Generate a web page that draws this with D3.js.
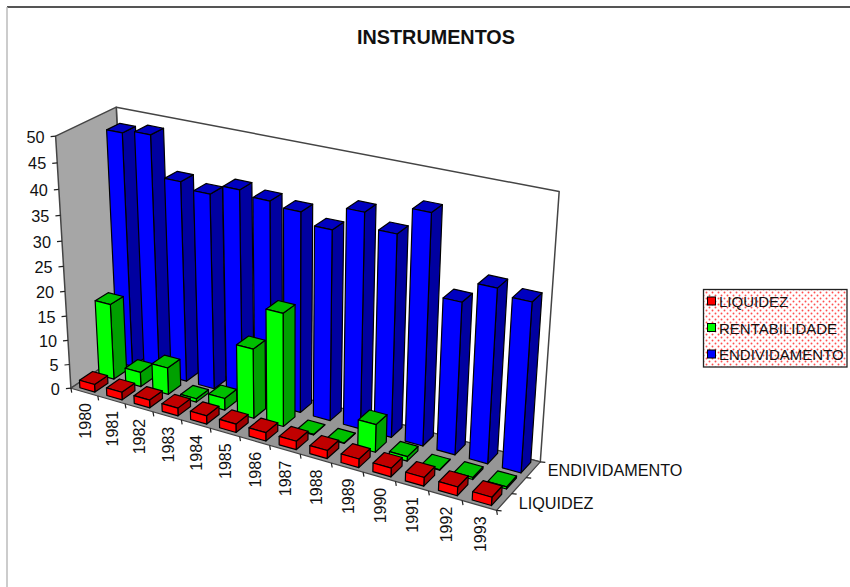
<!DOCTYPE html>
<html><head><meta charset="utf-8">
<script src="https://cdn.jsdelivr.net/npm/d3@7"></script>
<style>html,body{margin:0;padding:0;background:#fff}svg{display:block}text{font-family:"Liberation Sans",Arial,sans-serif;fill:#111}</style>
</head><body><svg id="c" width="850" height="587"></svg>
<script>
const years=["1980","1981","1982","1983","1984","1985","1986","1987","1988","1989","1990","1991","1992","1993"];
const seriesNames=["LIQUIDEZ","RENTABILIDADE","ENDIVIDAMENTO"];
const liquidez=[1.6,1.6,1.6,1.6,1.7,1.7,1.7,1.7,1.6,1.7,1.7,1.7,1.7,1.6];
const rentabilidade=[15.6,3,5.5,0.7,2.4,14,22.5,0.1,0.1,5.5,0.9,0.1,0.4,0.4];
const endividamento=[47.4,48.1,40.3,39.1,41.1,40.2,39.4,37.3,41.8,39.1,44.2,29.3,33.3,32.2];
const yTicks=[0,5,10,15,20,25,30,35,40,45,50];
const depthLabels=["LIQUIDEZ","","ENDIVIDAMENTO"];
const values=[liquidez,rentabilidade,endividamento];
const shades=[{f:"#ff0000",t:"#c00000",s:"#a00000"},{f:"#00ff00",t:"#00c000",s:"#00a000"},{f:"#0000ff",t:"#0000c0",s:"#0000a0"}];

// projective camera fitted on the visible corners of the chart box
const anchors=[[0,0,0,72,387],[1,0,0,496,512],[1,1,0,541,460],[0,1,0,126,352],[0,0,1,55,136],[0,1,1,117,107],[1,1,1,559,192]];
function fit(a){
  const A=[],B=[];
  a.forEach(([u,v,w,x,y])=>{
    A.push([u,v,w,1,0,0,0,0,-x*u,-x*v,-x*w]);B.push(x);
    A.push([0,0,0,0,u,v,w,1,-y*u,-y*v,-y*w]);B.push(y);
  });
  const n=11,N=d3.range(n).map(i=>d3.range(n+1).map(j=>j<n?d3.sum(A,(r)=>r[i]*r[j]):d3.sum(A,(r,k)=>r[i]*B[k])));
  for(let i=0;i<n;i++){N[i][i]+=1e-9;
    let p=i;for(let r=i+1;r<n;r++)if(Math.abs(N[r][i])>Math.abs(N[p][i]))p=r;
    [N[i],N[p]]=[N[p],N[i]];
    for(let r=0;r<n;r++)if(r!==i){const k=N[r][i]/N[i][i];for(let c=i;c<=n;c++)N[r][c]-=k*N[i][c];}
  }
  return N.map((r,i)=>r[n]/r[i]);
}
const m=fit(anchors);
const P=(u,v,w)=>{const d=m[8]*u+m[9]*v+m[10]*w+1;return [(m[0]*u+m[1]*v+m[2]*w+m[3])/d,(m[4]*u+m[5]*v+m[6]*w+m[7])/d];};

const svg=d3.select("#c");
const uS=d3.scaleBand().domain(years).range([0,1]).paddingInner(0.44).paddingOuter(0.22);
const vS=d3.scaleBand().domain(seriesNames).range([0,1]).paddingInner(0.32).paddingOuter(0.16);
const uStep=d3.scaleBand().domain(years).range([0,1]);
const vStep=d3.scaleBand().domain(seriesNames).range([0,1]);
const wS=d3.scaleLinear().domain([0,50]).range([0,1]);
const poly=(g,pts,fill,stroke,sw)=>g.append("polygon").attr("points",pts.map(p=>p.map(c=>c.toFixed(2)).join(",")).join(" ")).attr("fill",fill).attr("stroke",stroke||"#000").attr("stroke-width",sw||1.2).attr("stroke-linejoin","round");
const line=(g,a,b,c,w)=>g.append("line").attr("x1",a[0]).attr("y1",a[1]).attr("x2",b[0]).attr("y2",b[1]).attr("stroke",c||"#222").attr("stroke-width",w||1);

// page frame
line(svg,[7,7],[850,7],"#555",2);
line(svg,[7,7],[7,587],"#bbb",1.5);

// title
svg.append("text").attr("x",436).attr("y",44).attr("text-anchor","middle").attr("font-size",19.8).attr("font-weight","bold").attr("fill","#000").text("INSTRUMENTOS");

// walls and floor
const box=svg.append("g");
poly(box,[P(0,1,0),P(1,1,0),P(1,1,1),P(0,1,1)],"#fff","#444",1.5);
poly(box,[P(0,0,0),P(0,1,0),P(0,1,1),P(0,0,1)],"#a6a6a6","#444",1.5);
poly(box,[P(0,0,0),P(1,0,0),P(1,1,0),P(0,1,0)],"#969696","#444",1.2);

// y axis
const ax=svg.append("g");
yTicks.forEach(t=>{
  const p=P(0,0,wS(t));
  line(ax,p,[p[0]-5,p[1]+0.5],"#222",1.2);
  ax.append("text").attr("x",p[0]-11).attr("y",p[1]+6.5).attr("text-anchor","end").attr("font-size",16.3).text(t);
});
// x axis
d3.range(years.length+1).forEach(i=>{
  const p=P(i/years.length,0,0);
  line(ax,p,[p[0]+0.8,p[1]+4.5],"#222",1.2);
});
years.forEach(y=>{
  const p=P(uStep(y)+uStep.bandwidth()/2,0,0);
  ax.append("text").attr("transform",`translate(${p[0]+6.5},${p[1]+11}) rotate(-90)`).attr("text-anchor","end").attr("font-size",16).text(y);
});
// depth axis
d3.range(seriesNames.length+1).forEach(i=>{
  const p=P(1,i/seriesNames.length,0);
  line(ax,p,[p[0]+5,p[1]+0.5],"#222",1.2);
});
depthLabels.forEach((l,i)=>{
  if(!l)return;
  const p=P(1,vStep(seriesNames[i])+vStep.bandwidth()/2,0);
  ax.append("text").attr("x",p[0]+14.5).attr("y",p[1]+6.5).attr("font-size",16.2).text(l);
});

// bars: back row first, left to right
const bars=svg.append("g");
[2,1,0].forEach(s=>{
  const v0=vS(seriesNames[s]),v1=v0+vS.bandwidth(),c=shades[s];
  years.forEach((y,i)=>{
    const u0=uS(y),u1=u0+uS.bandwidth(),h=wS(values[s][i]);
    poly(bars,[P(u1,v0,0),P(u1,v1,0),P(u1,v1,h),P(u1,v0,h)],c.s);
    poly(bars,[P(u0,v0,h),P(u1,v0,h),P(u1,v1,h),P(u0,v1,h)],c.t);
    poly(bars,[P(u0,v0,0),P(u1,v0,0),P(u1,v0,h),P(u0,v0,h)],c.f);
  });
});

// legend
const defs=svg.append("defs");
const pat=defs.append("pattern").attr("id","dots").attr("patternUnits","userSpaceOnUse").attr("width",6).attr("height",6);
pat.append("rect").attr("width",6).attr("height",6).attr("fill","#fff");
[[1.5,1.5],[4.5,4.5]].forEach(([x,y])=>pat.append("circle").attr("cx",x).attr("cy",y).attr("r",0.95).attr("fill","#ff5050"));
const lg=svg.append("g");
lg.append("rect").attr("x",703.5).attr("y",289.5).attr("width",143.5).attr("height",77.5).attr("fill","url(#dots)").attr("stroke","#222").attr("stroke-width",1.3);
const ly=d3.scalePoint().domain(seriesNames).range([301,354]);
seriesNames.forEach((n,i)=>{
  lg.append("rect").attr("x",707.5).attr("y",ly(n)-4).attr("width",8).attr("height",8).attr("fill",shades[i].f).attr("stroke","#000").attr("stroke-width",1);
  lg.append("text").attr("x",719).attr("y",ly(n)+6).attr("font-size",15).text(n);
});
</script></body></html>
